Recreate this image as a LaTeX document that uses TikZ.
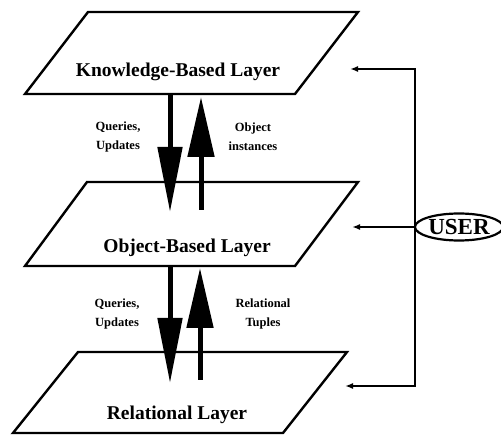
\documentclass[tikz,border=0pt]{standalone}
\usepackage{fontspec}
\setmainfont{Liberation Serif}
\usetikzlibrary{arrows.meta,shapes.geometric}
\begin{document}
\begin{tikzpicture}[x=1pt,y=-1pt,
  layer/.style={draw,line width=2.4pt,line join=miter,fill=white},
  layertext/.style={font=\fontsize{19.5}{22}\selectfont\bfseries,inner sep=0pt},
  lbl/.style={font=\fontsize{12.5}{19}\selectfont\bfseries,align=center,inner sep=0pt},
  bigdown/.style={line width=5pt,-{Triangle[length=65pt,width=24pt]}},
  bigup/.style={line width=5pt,-{Triangle[length=60pt,width=26pt]}},
  bracket/.style={line width=2.4pt,-{Latex[length=8pt,width=6pt]}}
]
\useasboundingbox (0,0) rectangle (501,435);
% layers
\draw[layer] (88,12) -- (358,12) -- (295,94) -- (25,94) -- cycle;
\draw[layer] (87,182) -- (358,182) -- (295,266) -- (25,266) -- cycle;
\draw[layer] (78,352) -- (347,352) -- (283,433) -- (13,433) -- cycle;
\node[layertext] (kb) at (178,72) {Knowledge-Based Layer};
\node[layertext] (ob) at (187,248) {Object-Based Layer};
\node[layertext] (rl) at (177,415) {Relational Layer};
% arrow end points
\coordinate (d1s) at (170,95);
\coordinate (d1e) at (170,212);
\coordinate (u1s) at (201,210);
\coordinate (u1e) at (201,97);
\coordinate (d2s) at (170,266);
\coordinate (d2e) at (170,383);
\coordinate (u2s) at (200,380);
\coordinate (u2e) at (200,268);
\draw[bigdown] (d1s) -- (d1e);
\draw[bigup] (u1s) -- (u1e);
\draw[bigdown] (d2s) -- (d2e);
\draw[bigup] (u2s) -- (u2e);
% labels
\node[lbl] (q1) at (118,137) {Queries,\\Updates};
\node[lbl] (oi) at (253,137) {Object\\instances};
\node[lbl] (q2) at (117,314) {Queries,\\Updates};
\node[lbl] (rt) at (263,314) {Relational\\Tuples};
% user
\node[draw,ellipse,line width=2.2pt,minimum width=88pt,minimum height=27pt,inner sep=0pt,
  font=\fontsize{23}{26}\selectfont\bfseries] (user) at (459,227) {USER};
\coordinate (kbR) at (350,69);
\coordinate (obR) at (352,227);
\coordinate (rlR) at (345,386);
\coordinate (bt) at (415,69);
\coordinate (bb) at (415,386);
\draw[bracket,{Latex[length=8pt,width=6pt]}-{Latex[length=8pt,width=6pt]},line join=miter] (kbR) -- (bt) -- (bb) -- (rlR);
\draw[bracket] (user.west) -- (obR);
\end{tikzpicture}
\end{document}
